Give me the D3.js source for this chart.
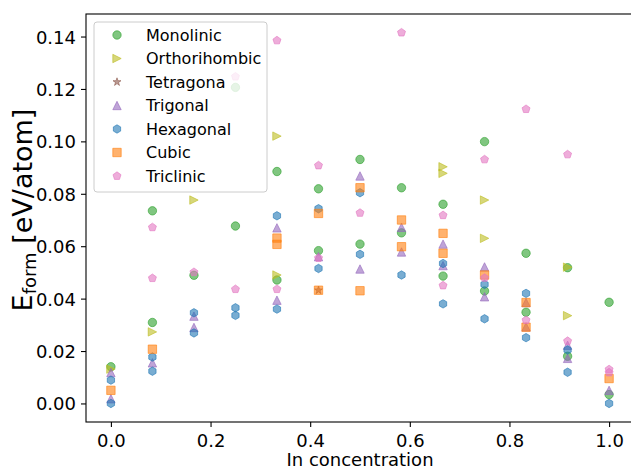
<!DOCTYPE html>
<html>
<head>
<meta charset="utf-8">
<script src="https://cdn.jsdelivr.net/npm/d3@7"></script>
<style>
  body { margin: 0; background: #fff; }
  text { font-family: "DejaVu Sans", sans-serif; fill: #000; }
</style>
</head>
<body>
<script>
// [In concentration, E_form in eV/atom]
var monolinic = [[0,0.0140],[0.0833,0.0735],[0.0833,0.0309],[0.1667,0.0489],[0.25,0.1206],[0.25,0.0677],
  [0.3333,0.0885],[0.3333,0.0471],[0.4167,0.0819],[0.4167,0.0583],[0.5,0.0931],[0.5,0.0608],
  [0.5833,0.0823],[0.5833,0.0651],[0.6667,0.0760],[0.6667,0.0486],[0.75,0.0999],[0.75,0.0429],
  [0.8333,0.0573],[0.8333,0.0348],[0.9167,0.0518],[0.9167,0.0180],[1.0,0.0386],[1.0,0.0034]];
var orthorhombic = [[0,0.0131],[0.0833,0.0273],[0.1667,0.0776],[0.3333,0.1020],[0.3333,0.0490],
  [0.6667,0.0903],[0.6667,0.0878],[0.75,0.0776],[0.75,0.0630],[0.9167,0.0520],[0.9167,0.0335]];
var tetragonal = [[0.4167,0.0432]];
var trigonal = [[0,0.0118],[0,0.0018],[0.0833,0.0155],[0.1667,0.0333],[0.1667,0.0290],[0.3333,0.0670],
  [0.3333,0.0394],[0.4167,0.0560],[0.5,0.0868],[0.5,0.0513],[0.5833,0.0672],[0.5833,0.0578],
  [0.6667,0.0608],[0.6667,0.0526],[0.75,0.0521],[0.75,0.0407],[0.8333,0.0385],[0.8333,0.0292],
  [0.9167,0.0222],[0.9167,0.0172],[1.0,0.0050]];
var hexagonal = [[0,0.0089],[0,0.0000],[0.0833,0.0177],[0.0833,0.0123],[0.1667,0.0346],[0.1667,0.0269],
  [0.25,0.0365],[0.25,0.0336],[0.3333,0.0716],[0.3333,0.0360],[0.4167,0.0743],[0.4167,0.0515],
  [0.5,0.0804],[0.5,0.0569],[0.5833,0.0490],[0.6667,0.0534],[0.6667,0.0380],[0.75,0.0454],
  [0.75,0.0323],[0.8333,0.0420],[0.8333,0.0251],[0.9167,0.0204],[0.9167,0.0119],[1.0,0.0000]];
var cubic = [[0,0.0050],[0.0833,0.0207],[0.3333,0.0631],[0.3333,0.0607],[0.4167,0.0725],[0.4167,0.0432],
  [0.5,0.0823],[0.5,0.0430],[0.5833,0.0700],[0.5833,0.0598],[0.6667,0.0649],[0.6667,0.0573],
  [0.75,0.0490],[0.8333,0.0385],[0.8333,0.0291],[1.0,0.0095]];
var triclinic = [[0.0833,0.0672],[0.0833,0.0478],[0.1667,0.0501],[0.25,0.1247],[0.25,0.0436],
  [0.3333,0.1385],[0.3333,0.0436],[0.4167,0.0908],[0.4167,0.0555],[0.5,0.0727],[0.5833,0.1415],
  [0.6667,0.0718],[0.6667,0.0450],[0.75,0.0931],[0.75,0.0479],[0.8333,0.1123],[0.8333,0.0318],
  [0.9167,0.0950],[0.9167,0.0238],[1.0,0.0130],[1.0,0.0118]];

var seriesNames = ["Monolinic","Orthorihombic","Tetragona","Trigonal","Hexagonal","Cubic","Triclinic"];
var seriesData = [monolinic, orthorhombic, tetragonal, trigonal, hexagonal, cubic, triclinic];
var xTicks = [0, 0.2, 0.4, 0.6, 0.8, 1.0];
var yTicks = [0, 0.02, 0.04, 0.06, 0.08, 0.10, 0.12, 0.14];

// styles
var colors = ["#2ca02c","#bcbd22","#8c564b","#9467bd","#1f77b4","#ff7f0e","#e377c2"];
var markers = ["o",">","*","^","h","s","p"];
var alpha = 0.6, msize = 8.4;

var W = 631, H = 469;
// plot box (right edge falls just outside the picture)
var pLeft = 86, pTop = 14, pRight = 634, pBottom = 422;

var svg = d3.select("body").append("svg").attr("width", W).attr("height", H);

var x = d3.scaleLinear().domain([-0.05, 1.05]).range([pLeft, pRight]);
var y = d3.scaleLinear().domain([-0.00708, 0.1486]).range([pBottom, pTop]);

// matplotlib-like marker shapes
function poly(pts) { return "M" + pts.map(function(p){ return p[0].toFixed(2)+","+p[1].toFixed(2); }).join("L") + "Z"; }
function regular(n, r, rot) {
  var pts = [];
  for (var i=0; i<n; i++) { var a = rot + i*2*Math.PI/n; pts.push([r*Math.cos(a), r*Math.sin(a)]); }
  return pts;
}
function markerPath(m, s) {
  var r = s/2;
  if (m === "o") { var p = d3.path(); p.arc(0, 0, r, 0, 2*Math.PI); p.closePath(); return p.toString(); }
  if (m === "s") return poly([[-r,-r],[r,-r],[r,r],[-r,r]]);
  if (m === "^") return poly([[0,-r],[-r,r],[r,r]]);
  if (m === ">") return poly([[r,0],[-r,-r],[-r,r]]);
  if (m === "p") return poly(regular(5, r, -Math.PI/2));
  if (m === "h") return poly(regular(6, r, -Math.PI/2));
  if (m === "*") {
    var pts = [];
    for (var i=0; i<10; i++) {
      var rr = i%2 ? r*0.381966 : r, a = -Math.PI/2 + i*Math.PI/5;
      pts.push([rr*Math.cos(a), rr*Math.sin(a)]);
    }
    return poly(pts);
  }
}

// axes
var xAxis = svg.append("g").attr("transform", "translate(0," + pBottom + ")")
  .call(d3.axisBottom(x).tickValues(xTicks).tickFormat(d3.format(".1f")).tickSize(5).tickSizeOuter(0).tickPadding(5));
var yAxis = svg.append("g").attr("transform", "translate(" + pLeft + ",0)")
  .call(d3.axisLeft(y).tickValues(yTicks).tickFormat(d3.format(".2f")).tickSize(5).tickSizeOuter(0).tickPadding(5));
[xAxis, yAxis].forEach(function(a){
  a.select(".domain").remove();
  a.selectAll(".tick line").attr("stroke", "#000").attr("stroke-width", 1.1);
  a.selectAll(".tick text").attr("font-size", 18).attr("font-family", "DejaVu Sans").attr("fill", "#000");
});
xAxis.selectAll(".tick text").attr("dy", null).attr("y", 25);
yAxis.selectAll(".tick text").attr("dy", "0.36em");

// points
seriesData.forEach(function(data, i){
  svg.append("g").selectAll("path").data(data).enter().append("path")
    .attr("d", markerPath(markers[i], msize))
    .attr("transform", function(d){ return "translate(" + x(d[0]) + "," + y(d[1]) + ")"; })
    .attr("fill", colors[i]).attr("fill-opacity", alpha)
    .attr("stroke", colors[i]).attr("stroke-opacity", alpha).attr("stroke-width", 1);
});

// spines
svg.append("rect").attr("x", pLeft).attr("y", pTop).attr("width", pRight-pLeft).attr("height", pBottom-pTop)
  .attr("fill", "none").attr("stroke", "#000").attr("stroke-width", 1.1);

// axis labels
svg.append("text").attr("x", (pLeft+pRight)/2).attr("y", 466).attr("text-anchor", "middle")
  .attr("font-size", 18).text("In concentration");
var yl = svg.append("text").attr("transform", "translate(32,210) rotate(-90)")
  .attr("text-anchor", "middle").attr("font-size", 27);
yl.append("tspan").text("E");
yl.append("tspan").attr("font-size", 18).attr("dy", 4).text("form");
yl.append("tspan").attr("dy", -4).text(" [eV/atom]");

// legend
var leg = svg.append("g");
leg.append("rect").attr("x", 94).attr("y", 22).attr("width", 173).attr("height", 170).attr("rx", 3)
  .attr("fill", "#fff").attr("fill-opacity", 0.8).attr("stroke", "#ccc").attr("stroke-width", 1);
seriesNames.forEach(function(name, i){
  var cy = 35 + i*23.5;
  leg.append("path").attr("d", markerPath(markers[i], msize))
    .attr("transform", "translate(117," + cy + ")")
    .attr("fill", colors[i]).attr("fill-opacity", alpha)
    .attr("stroke", colors[i]).attr("stroke-opacity", alpha).attr("stroke-width", 1);
  leg.append("text").attr("x", 146).attr("y", cy).attr("dy", "0.36em")
    .attr("font-size", 16).text(name);
});
</script>
</body>
</html>
